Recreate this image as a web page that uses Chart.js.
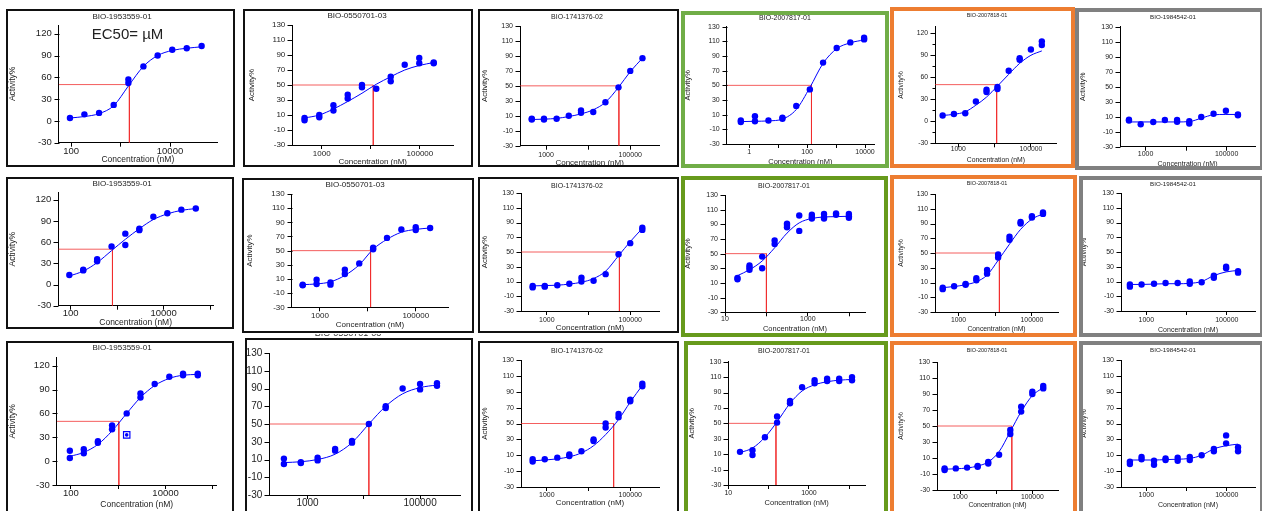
<!DOCTYPE html>
<html>
<head>
<meta charset="utf-8">
<script src="https://cdn.jsdelivr.net/npm/chart.js@4.4.1/dist/chart.umd.min.js"></script>
<style>
body { margin: 0; width: 1262px; height: 511px; overflow: hidden; background: #fff; position: relative;
       font-family: "Liberation Sans", Arial, sans-serif; color: #222; }
.box { position: absolute; box-sizing: border-box; }
.cv { position: absolute; }
.lbl { position: absolute; transform: translate(-50%, -50%); white-space: nowrap; line-height: 1; }
</style>
</head>
<body>
<script>
'use strict';

// ---- data ----
const titles = ['BIO-1953559-01', 'BIO-0550701-03', 'BIO-1741376-02', 'BIO-2007817-01', 'BIO-2007818-01', 'BIO-1984542-01'];
const ec50Label = 'EC50= \u00b5M';

// row 1
const r1c1Dose = [95, 186, 368, 728, 1440, 2900, 5630, 11100, 21800, 43600];
const r1c1Act = [[4], [9], [11], [22], [57, 52], [75], [90], [98], [100], [103]];
const r1c1Fit = [4, 6, 10, 21, 48, 75, 90, 97, 100, 102];
const r1c1Ec50 = 1510;

const r1c2Dose = [446, 890, 1730, 3380, 6600, 12900, 25400, 49000, 97000, 191000];
const r1c2Act = [[3, 6], [7, 10], [16, 23], [32, 37], [47, 50], [45], [55, 61], [77], [86, 79], [79, 80]];
const r1c2Fit = [6, 10, 18, 28, 39, 51, 61, 70, 76, 80];
const r1c2Ec50 = 11200;

const r1c3Dose = [457, 891, 1780, 3460, 6760, 13200, 25700, 52500, 100000, 195000];
const r1c3Act = [[5, 6], [5, 6], [6], [10], [17, 14], [15], [28], [48], [70], [87]];
const r1c3Fit = [5, 5.5, 6.5, 9, 12.5, 18, 28, 48, 69, 87];
const r1c3Ec50 = 53700;

const r1c4Dose = [0.51, 1.57, 4.6, 14, 42, 124, 355, 1050, 3100, 9300];
const r1c4Act = [[2, 0], [8, 1], [2], [4.5, 6], [22], [44.5], [81], [101], [108.6], [115, 112.7]];
const r1c4Fit = [0.5, 1, 1.5, 4, 17, 47, 80, 100, 108, 112];
const r1c4Ec50 = 141;

const r1c5Dose = [372, 760, 1560, 3060, 6000, 12000, 24500, 49000, 100000, 200000];
const r1c5Act = [[8], [10], [11], [27], [40, 43], [44, 47], [69], [84, 86], [98], [109, 104]];
const r1c5Fit = [8, 9.5, 13, 22, 33, 48, 64, 79, 90, 96];
const r1c5Ec50 = 11400;

const r1c6Dose = [390, 760, 1550, 3000, 6000, 12000, 23700, 47600, 96000, 190000];
const r1c6Act = [[6, 5], [0], [3], [5.6], [5.6, 3.3], [1, 4], [9.6], [14], [18], [12, 13]];
const r1c6Fit = [3, 3, 3, 3, 3, 3.5, 8, 12.5, 13, 13];

// row 2
const r2c1Dose = [94, 187, 372, 760, 1500, 3000, 6000, 12000, 24000, 49000];
const r2c1Act = [[13.5], [20, 21], [33, 36], [54], [72, 56], [77, 79], [96], [101], [106], [107.7]];
const r2c1Fit = [12, 19, 31, 48, 64, 79, 92, 100, 105, 107.5];
const r2c1Ec50 = 794;

const r2c2Dose = [436, 851, 1660, 3310, 6610, 12900, 25100, 50100, 100000, 200000];
const r2c2Act = [[1, 2], [9, 3], [2, 5], [17, 23], [32], [52, 54], [68], [80], [79, 83], [82]];
const r2c2Fit = [2, 3, 6, 15, 30, 52, 66, 76, 80, 82];
const r2c2Ec50 = 11400;

const r2c3Dose = [457, 891, 1780, 3460, 6760, 13200, 25700, 52500, 100000, 195000];
const r2c3Act = [[4, 2], [4, 3], [5], [7], [15, 10], [11], [20], [47], [62], [80, 83]];
const r2c3Fit = [4, 4.5, 5, 6.5, 9, 14, 24, 45, 64, 82];
const r2c3Ec50 = 55000;

const r2c4Dose = [20, 39, 79, 158, 314, 620, 1250, 2460, 4800, 9800];
const r2c4Act = [[17, 15], [34, 31, 28], [46, 30], [63, 68], [86, 89, 91], [102, 81], [100, 103, 98], [100, 104, 98], [105, 103], [104, 101, 99]];
const r2c4Fit = [20, 28, 40, 58, 78, 92, 98, 100, 100.5, 101];
const r2c4Ec50 = 100;

const r2c5Dose = [372, 760, 1560, 3060, 6000, 12000, 24500, 49000, 100000, 200000];
const r2c5Act = [[3, 1], [5], [7, 8], [13, 16], [22, 27], [48, 44], [72, 68], [92, 90], [98, 100], [103, 105]];
const r2c5Fit = [3, 4.5, 7, 11, 20, 40, 62, 82, 96, 103];
const r2c5Ec50 = 13000;

const r2c6Dose = [390, 760, 1550, 3000, 6000, 12000, 23700, 47600, 96000, 190000];
const r2c6Act = [[3, 6], [6], [7], [8], [8], [7, 10], [9], [18, 15], [30, 28], [24, 22]];
const r2c6Fit = [6, 6, 6.5, 7, 7, 7.5, 10, 18, 23, 25];

// row 3
const r3c1Dose = [95, 187, 372, 741, 1510, 2950, 5890, 12000, 23400, 47900];
const r3c1Act = [[13, 4], [15, 10], [25, 23], [45, 40], [60], [85, 80], [97], [106], [108, 110], [108, 110]];
const r3c1Fit = [6, 11, 21, 38, 60, 80, 95, 104, 108, 109];
const r3c1Ec50 = 1030;
const r3c1Outlier = [1510, 33];

const r3c2Dose = [380, 760, 1510, 3090, 6170, 12300, 24500, 49000, 100000, 200000];
const r3c2Act = [[11, 5], [6, 7], [9, 12], [20, 22], [29, 31], [50], [68, 70], [90], [95, 89], [96, 93]];
const r3c2Fit = [6.5, 7.5, 10, 16, 29, 50, 70, 84, 91, 94];
const r3c2Ec50 = 12300;

const r3c3Dose = [457, 891, 1780, 3460, 6760, 13200, 25700, 52500, 100000, 195000];
const r3c3Act = [[2, 5], [5], [7], [9, 11], [15], [30, 28], [45, 50], [58, 62], [80, 78], [97, 100]];
const r3c3Fit = [3, 4, 5.5, 8, 13, 22, 36, 55, 77, 98];
const r3c3Ec50 = 40000;

const r3c4Dose = [19.5, 39.8, 81, 162, 339, 676, 1380, 2820, 5620, 11700];
const r3c4Act = [[13], [15, 9], [32], [51, 59], [76, 79], [97], [102, 106], [105, 108], [105, 108], [106, 110]];
const r3c4Fit = [12, 18, 32, 52, 76, 92, 100, 104, 106, 107];
const r3c4Ec50 = 152;

const r3c5Dose = [372, 760, 1560, 3060, 6000, 12000, 24500, 49000, 100000, 200000];
const r3c5Act = [[-3, -5], [-3], [-2], [0, -1], [5, 3], [14], [45, 40], [68, 74], [90, 93], [97, 100]];
const r3c5Fit = [-4, -3.5, -2.5, 0, 5, 18, 43, 68, 88, 98];
const r3c5Ec50 = 27000;

const r3c6Dose = [390, 760, 1550, 3000, 6000, 12000, 23700, 47600, 96000, 190000];
const r3c6Act = [[2, -1], [8, 5], [-2, 3], [6, 4], [3, 7], [4, 8], [10], [18, 15], [35, 25], [20, 15]];
const r3c6Fit = [4, 4, 4, 4.5, 5, 6, 10, 18, 22, 24];

// ---- layout (page pixels) ----
const BLACK = '#111', GREEN1 = '#70AD47', GREEN2 = '#679A1C', ORANGE = '#ED7D31', GRAY = '#808080';
const Y15 = { yr: [-30, 132], ys: [15, 30] };
const Y20 = { yr: [-30, 130], ys: [10, 20] };

const panels = [
  // row 1
  { d: [r1c1Dose, r1c1Act, r1c1Fit, r1c1Ec50], t: 0, box: [6, 9, 235, 167], bw: 2, col: BLACK,
    area: [58.7, 25, 217, 142.7], xr: [1.75, 4.95], ...Y15, xl: [100, 10000], xlc: 151,
    tt: [122, 17, 8], ytx: 13, xty: 160, tf: 9.5, af: 8.5 },
  { d: [r1c2Dose, r1c2Act, r1c2Fit, r1c2Ec50], t: 1, box: [243, 9, 473, 167], bw: 2, col: BLACK,
    area: [292.3, 25, 453.3, 145], xr: [2.40, 5.68], ...Y20, xl: [1000, 100000], xlc: 154,
    tt: [357, 16, 8], ytx: 252, xty: 162, tf: 8, af: 8 },
  { d: [r1c3Dose, r1c3Act, r1c3Fit, r1c3Ec50], t: 2, box: [478, 9, 679, 167], bw: 2, col: BLACK,
    area: [520, 26, 659.3, 145.7], xr: [2.38, 5.69], ...Y20, xl: [1000, 100000], xlc: 155,
    tt: [577, 16, 7], ytx: 485, xty: 163, tf: 7, af: 8 },
  { d: [r1c4Dose, r1c4Act, r1c4Fit, r1c4Ec50], t: 3, box: [681, 11, 889, 168], bw: 4, col: GREEN1,
    area: [726.7, 26.7, 874, 144], xr: [-0.78, 4.31], ...Y20, xl: [1, 100, 10000], xlc: 151.7,
    tt: [785, 17, 7], ytx: 688, xty: 162, tf: 7, af: 7.5 },
  { d: [r1c5Dose, r1c5Act, r1c5Fit, r1c5Ec50], t: 4, box: [890, 7, 1075, 168], bw: 4, col: ORANGE,
    area: [935, 26.7, 1056.7, 143.3], xr: [2.36, 5.71], yr: [-30, 129], ys: [15, 30], xl: [1000, 100000], xlc: 149,
    tt: [987, 16, 5.5], ytx: 901, xty: 160, tf: 6.8, af: 6.8 },
  { d: [r1c6Dose, r1c6Act, r1c6Fit, null], t: 5, box: [1075, 8, 1264, 170], bw: 4, col: GRAY,
    area: [1120, 26.7, 1255, 146.7], xr: [2.37, 5.70], ...Y20, xl: [1000, 100000], xlc: 154,
    tt: [1173, 17, 6.2], ytx: 1083, xty: 164, tf: 7, af: 7 },
  // row 2
  { d: [r2c1Dose, r2c1Act, r2c1Fit, r2c1Ec50], t: 0, box: [6, 177, 234, 329], bw: 2, col: BLACK,
    area: [58.3, 192.7, 213, 305.7], xr: [1.736, 5.06], yr: [-30, 130], ys: [15, 30], xl: [100, 10000], xlc: 313.5,
    tt: [122, 184, 8], ytx: 13, xty: 322.7, tf: 9.5, af: 8.5 },
  { d: [r2c2Dose, r2c2Act, r2c2Fit, r2c2Ec50], t: 1, box: [242, 178, 474, 333], bw: 2, col: BLACK,
    area: [291.7, 194, 448.3, 307.3], xr: [2.41, 5.68], ...Y20, xl: [1000, 100000], xlc: 315.7,
    tt: [355, 185, 8], ytx: 250, xty: 325, tf: 8, af: 8 },
  { d: [r2c3Dose, r2c3Act, r2c3Fit, r2c3Ec50], t: 2, box: [478, 177, 679, 333], bw: 2, col: BLACK,
    area: [521, 193, 659, 311], xr: [2.38, 5.69], ...Y20, xl: [1000, 100000], xlc: 320,
    tt: [577, 185, 7], ytx: 485, xty: 328, tf: 7, af: 8 },
  { d: [r2c4Dose, r2c4Act, r2c4Fit, r2c4Ec50], t: 3, box: [681, 176, 888, 337], bw: 4, col: GREEN2,
    area: [725, 195, 865, 312.3], xr: [1, 4.38], ...Y20, xl: [10, 1000], xlc: 319,
    tt: [784, 185, 7], ytx: 688, xty: 329, tf: 7, af: 7.5 },
  { d: [r2c5Dose, r2c5Act, r2c5Fit, r2c5Ec50], t: 4, box: [890, 175, 1077, 337], bw: 4, col: ORANGE,
    area: [935, 194, 1058, 312], xr: [2.36, 5.71], ...Y20, xl: [1000, 100000], xlc: 320,
    tt: [987, 184, 5.5], ytx: 901, xty: 329, tf: 6.8, af: 6.8 },
  { d: [r2c6Dose, r2c6Act, r2c6Fit, null], t: 5, box: [1079, 176, 1264, 337], bw: 4, col: GRAY,
    area: [1121, 193, 1255, 311], xr: [2.37, 5.70], ...Y20, xl: [1000, 100000], xlc: 320,
    tt: [1173, 184, 6.2], ytx: 1084, xty: 330, tf: 7, af: 7 },
  // row 3
  { d: [r3c1Dose, r3c1Act, r3c1Fit, r3c1Ec50], t: 0, box: [6, 341, 234, 515], bw: 2, col: BLACK,
    area: [56.7, 357.7, 216.7, 485], xr: [1.70, 5.08], yr: [-30, 130], ys: [15, 30], xl: [100, 10000], xlc: 493.3,
    tt: [122, 348, 8], ytx: 13, xty: 505, tf: 9.5, af: 8.5, outlier: r3c1Outlier },
  { d: [r3c2Dose, r3c2Act, r3c2Fit, r3c2Ec50], t: 1, box: [245, 338, 473, 515], bw: 2, col: BLACK,
    area: [269.3, 350, 460, 495], xr: [2.32, 5.71], ...Y20, xl: [1000, 100000], xlc: 503.3,
    tt: null, ytx: null, xty: null, tf: 10, af: 9, cutTitle: [348, 335] },
  { d: [r3c3Dose, r3c3Act, r3c3Fit, r3c3Ec50], t: 2, box: [478, 341, 679, 515], bw: 2, col: BLACK,
    area: [521, 360, 659, 487], xr: [2.38, 5.69], ...Y20, xl: [1000, 100000], xlc: 495,
    tt: [577, 350, 7], ytx: 485, xty: 503, tf: 7, af: 8 },
  { d: [r3c4Dose, r3c4Act, r3c4Fit, r3c4Ec50], t: 3, box: [684, 341, 888, 515], bw: 4, col: GREEN2,
    area: [728.3, 361.7, 865, 485], xr: [1, 4.39], ...Y20, xl: [10, 1000], xlc: 493.3,
    tt: [784, 350, 7], ytx: 692, xty: 503, tf: 7, af: 7.5 },
  { d: [r3c5Dose, r3c5Act, r3c5Fit, r3c5Ec50], t: 4, box: [890, 341, 1077, 515], bw: 4, col: ORANGE,
    area: [937, 362, 1058, 490], xr: [2.36, 5.71], ...Y20, xl: [1000, 100000], xlc: 497,
    tt: [987, 351, 5.5], ytx: 901, xty: 505, tf: 6.8, af: 6.8 },
  { d: [r3c6Dose, r3c6Act, r3c6Fit, null], t: 5, box: [1079, 341, 1264, 515], bw: 4, col: GRAY,
    area: [1121, 360, 1255, 487], xr: [2.37, 5.70], ...Y20, xl: [1000, 100000], xlc: 495,
    tt: [1173, 350, 6.2], ytx: 1084, xty: 505, tf: 7, af: 7 }
];

Chart.defaults.font.family = "'Liberation Sans', Arial, sans-serif";
Chart.defaults.color = '#222';

// y ticks with long major / short minor marks, drawn against the chart's own y scale
const yTickMarks = {
  id: 'yTickMarks',
  afterDraw(chart, args, opts) {
    const ys = chart.scales.y;
    const ctx = chart.ctx;
    const ax = Math.round(ys.right) + 0.5;
    ctx.save();
    ctx.strokeStyle = '#000';
    ctx.lineWidth = 1;
    ctx.beginPath();
    ys.ticks.forEach(t => {
      const py = Math.round(ys.getPixelForValue(t.value)) + 0.5;
      const len = (t.value - opts.min) % opts.labStep === 0 ? 5 : 3;
      ctx.moveTo(ax - len, py);
      ctx.lineTo(ax, py);
    });
    ctx.stroke();
    ctx.restore();
  }
};

function addLabel(text, cx, cy, size) {
  const el = document.createElement('div');
  el.className = 'lbl';
  el.textContent = text;
  el.style.left = cx + 'px';
  el.style.top = cy + 'px';
  el.style.fontSize = size + 'px';
  document.body.appendChild(el);
  return el;
}

function makePanel(p) {
  const [dose, act, fit, ec50] = p.d;
  const [bl, bt, br, bb] = p.box;
  const box = document.createElement('div');
  box.className = 'box';
  Object.assign(box.style, {
    left: bl + 'px', top: bt + 'px', width: (br - bl) + 'px', height: (bb - bt) + 'px',
    border: p.bw + 'px solid ' + p.col
  });
  document.body.appendChild(box);

  const cl = bl + p.bw, ct = bt + p.bw, cr = br - p.bw, cb = Math.min(bb - p.bw, 511);
  const cv = document.createElement('canvas');
  cv.className = 'cv';
  cv.width = cr - cl;
  cv.height = cb - ct;
  cv.style.left = cl + 'px';
  cv.style.top = ct + 'px';
  document.body.appendChild(cv);

  const [x0, y0, x1, y1] = p.area;
  const xMin = Math.pow(10, p.xr[0]), xMax = Math.pow(10, p.xr[1]);
  const [yMin, yMax] = p.yr;
  const [yStep, yLabStep] = p.ys;

  const points = [];
  dose.forEach((c, i) => act[i].forEach(v => points.push({ x: c, y: v })));

  const datasets = [
    { data: points, pointRadius: 3.2, pointBackgroundColor: '#0000FF', pointBorderWidth: 0, showLine: false, order: 0 },
    { data: dose.map((c, i) => ({ x: c, y: fit[i] })), showLine: true, borderColor: '#0000FF', borderWidth: 1,
      pointRadius: 0, cubicInterpolationMode: 'monotone', order: 1 }
  ];
  if (ec50 !== null) {
    const red = 'rgba(240,40,40,0.75)';
    datasets.push({ data: [{ x: xMin, y: 50 }, { x: ec50, y: 50 }], showLine: true, borderColor: red, borderWidth: 1, pointRadius: 0, order: 2 });
    datasets.push({ data: [{ x: ec50, y: 50 }, { x: ec50, y: yMin }], showLine: true, borderColor: red, borderWidth: 1, pointRadius: 0, order: 2 });
  }
  if (p.outlier) {
    const o = [{ x: p.outlier[0], y: p.outlier[1] }];
    datasets.push({ data: o, pointStyle: 'rect', pointRadius: 4.5, pointBackgroundColor: 'rgba(0,0,0,0)', pointBorderColor: '#0000FF', pointBorderWidth: 1.2, showLine: false, order: 0 });
    datasets.push({ data: o, pointRadius: 1.8, pointBackgroundColor: '#0000FF', pointBorderWidth: 0, showLine: false, order: 0 });
  }

  const axisBorder = { display: true, color: '#000', width: 1 };
  const lhA = p.af * 1.2;
  const xTickPad = p.xlc - y1 - 4 - (p.tf * 1.2) / 2;

  new Chart(cv, {
    type: 'scatter',
    data: { datasets },
    plugins: [yTickMarks],
    options: {
      responsive: false,
      animation: false,
      devicePixelRatio: 1,
      layout: { padding: { top: y0 - ct, right: cr - x1, left: 0, bottom: 0 } },
      plugins: {
        legend: { display: false }, title: { display: false }, tooltip: { enabled: false },
        yTickMarks: { min: yMin, labStep: yLabStep }
      },
      scales: {
        x: {
          type: 'logarithmic', min: xMin, max: xMax,
          grid: { display: true, drawOnChartArea: false, drawTicks: true, tickLength: 4, tickColor: '#000', color: '#000' },
          border: axisBorder,
          afterBuildTicks: s => {
            const t = [];
            for (let e = Math.ceil(p.xr[0] - 1e-9); e <= p.xr[1] + 1e-9; e++) t.push({ value: Math.pow(10, e) });
            s.ticks = t;
          },
          afterFit: s => { s.height = cb - y1; },
          ticks: {
            autoSkip: false, maxRotation: 0, padding: xTickPad,
            font: { size: p.tf },
            callback: v => (p.xl.some(l => Math.abs(l - v) / l < 1e-6) ? String(Math.round(v)) : '')
          },
          title: {
            display: p.xty !== null, text: 'Concentration (nM)', font: { size: p.af },
            padding: { top: 0, bottom: p.xty !== null ? (cb - p.xty - lhA / 2) : 0 }
          }
        },
        y: {
          type: 'linear', min: yMin, max: yMax,
          grid: { display: true, drawOnChartArea: false, drawTicks: false },
          border: axisBorder,
          afterBuildTicks: s => {
            const t = [];
            for (let v = yMin; v <= yMax + 1e-9; v += yStep) t.push({ value: v });
            s.ticks = t;
          },
          afterFit: s => { s.width = x0 - cl; },
          ticks: {
            padding: 7, font: { size: p.tf },
            callback: v => ((v - yMin) % yLabStep === 0 ? String(v) : '')
          },
          title: {
            display: p.ytx !== null, text: 'Activity%', font: { size: p.af },
            padding: { top: p.ytx !== null ? (p.ytx - cl - lhA / 2) : 0, bottom: 0 }
          }
        }
      }
    }
  });

  if (p.tt) addLabel(titles[p.t], p.tt[0], p.tt[1], p.tt[2]);
  if (p.cutTitle) {
    // title of this panel is mostly hidden behind the frame edge in the source
    const clip = document.createElement('div');
    Object.assign(clip.style, { position: 'absolute', left: (p.cutTitle[0] - 45) + 'px', top: (p.cutTitle[1] - 1) + 'px',
      width: '90px', height: '4px', overflow: 'hidden' });
    const s = document.createElement('div');
    Object.assign(s.style, { position: 'absolute', left: '0', width: '90px', top: '-5px', textAlign: 'center',
      fontSize: '9px', lineHeight: '9px', color: '#333' });
    s.textContent = titles[p.t];
    clip.appendChild(s);
    document.body.appendChild(clip);
  }
}

panels.forEach(makePanel);
addLabel(ec50Label, 127.5, 33, 15);
</script>
</body>
</html>
